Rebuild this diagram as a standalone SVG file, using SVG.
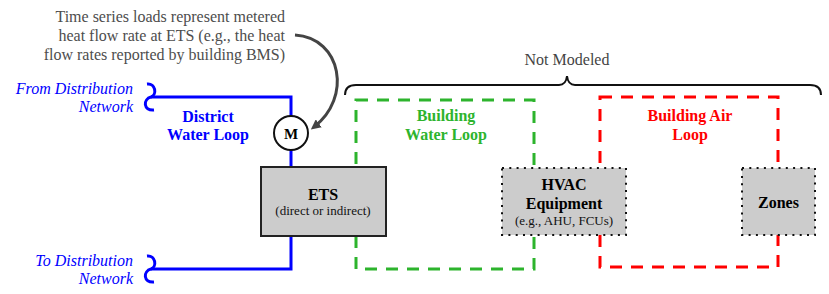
<svg xmlns="http://www.w3.org/2000/svg" width="829" height="294" viewBox="0 0 829 294">
<style>
text{font-family:"Liberation Serif","Times New Roman",serif}
.note{font-size:16px;fill:#4d4d4d}
.blue-i{font-size:16px;font-style:italic;fill:#0000ff}
.lbl{font-size:16px;font-weight:bold;text-anchor:middle}
.small{font-size:13px;text-anchor:middle;fill:#111}
.pipe{fill:none;stroke:#0000ff;stroke-width:3}
.dashg{fill:none;stroke:#2db42d;stroke-width:3;stroke-dasharray:12 9}
.dashr{fill:none;stroke:#ff0000;stroke-width:3;stroke-dasharray:12 9}
.dotbox{fill:#cccccc;stroke:#111;stroke-width:2;stroke-dasharray:2 5.3}
</style>
<defs>
<marker id="ah" markerWidth="10" markerHeight="10" refX="6" refY="5" orient="auto" markerUnits="userSpaceOnUse" viewBox="0 0 10 10">
<path d="M0,0 L10,5 L0,10 z" fill="#444"/>
</marker>
</defs>

<g id="annotation">
<text class="note" text-anchor="end" x="285" y="22">Time series loads represent metered</text>
<text class="note" text-anchor="end" x="285" y="41">heat flow rate at ETS (e.g., the heat</text>
<text class="note" text-anchor="end" x="285" y="60">flow rates reported by building BMS)</text>
</g>

<g id="not-modeled">
<text class="note" x="567" y="65" text-anchor="middle" style="fill:#444">Not Modeled</text>
<path d="M345,95 Q345,85 356,85 L559,85 Q566,85 567,76 Q568,85 575,85 L810,85 Q821,85 821,95" fill="none" stroke="#111" stroke-width="2"/>
</g>

<g id="building-water-loop">
<rect class="dashg" x="356" y="100" width="178" height="169"/>
<text class="lbl" x="446" y="121" fill="#2db42d">Building</text>
<text class="lbl" x="446" y="140" fill="#2db42d">Water Loop</text>
</g>

<g id="building-air-loop">
<rect class="dashr" x="600" y="97" width="178" height="170"/>
<text class="lbl" x="690" y="121" fill="#ff0000">Building Air</text>
<text class="lbl" x="690" y="140" fill="#ff0000">Loop</text>
</g>

<g id="connectors">
<path class="pipe" d="M147,84 C156,83 157,95 151,97 C143,99 143,111 154,110"/>
<path class="pipe" d="M151,97 L291,97 L291,116"/>
<path class="pipe" d="M291,150 L291,167"/>
<path class="pipe" d="M291,236 L291,269 L151,269"/>
<path class="pipe" d="M147,256 C156,255 157,267 151,269 C143,271 143,283 154,282"/>
<path d="M295,35 C342,38 352,98 314,127" fill="none" stroke="#444" stroke-width="3" marker-end="url(#ah)"/>
</g>

<g id="district-water-loop">
<text class="blue-i" text-anchor="end" x="133" y="94">From Distribution</text>
<text class="blue-i" text-anchor="end" x="133" y="112">Network</text>
<text class="blue-i" text-anchor="end" x="133" y="266">To Distribution</text>
<text class="blue-i" text-anchor="end" x="133" y="284">Network</text>
<text class="lbl" x="208" y="122" fill="#0000ff">District</text>
<text class="lbl" x="208" y="140" fill="#0000ff">Water Loop</text>
</g>

<g id="meter">
<circle cx="291" cy="133" r="17" fill="#fff" stroke="#111" stroke-width="2"/>
<text class="lbl" x="291" y="139" style="font-size:15px">M</text>
</g>

<g id="ets">
<rect x="261" y="167" width="125" height="69" fill="#cccccc" stroke="#222" stroke-width="2"/>
<text class="lbl" x="323" y="200">ETS</text>
<text class="small" x="323" y="215">(direct or indirect)</text>
</g>

<g id="hvac">
<rect class="dotbox" x="502" y="168" width="124" height="67"/>
<text class="lbl" x="564" y="190">HVAC</text>
<text class="lbl" x="564" y="209">Equipment</text>
<text class="small" x="564" y="225">(e.g., AHU, FCUs)</text>
</g>

<g id="zones">
<rect class="dotbox" x="742" y="168" width="73" height="67"/>
<text class="lbl" x="778.5" y="208">Zones</text>
</g>
</svg>
